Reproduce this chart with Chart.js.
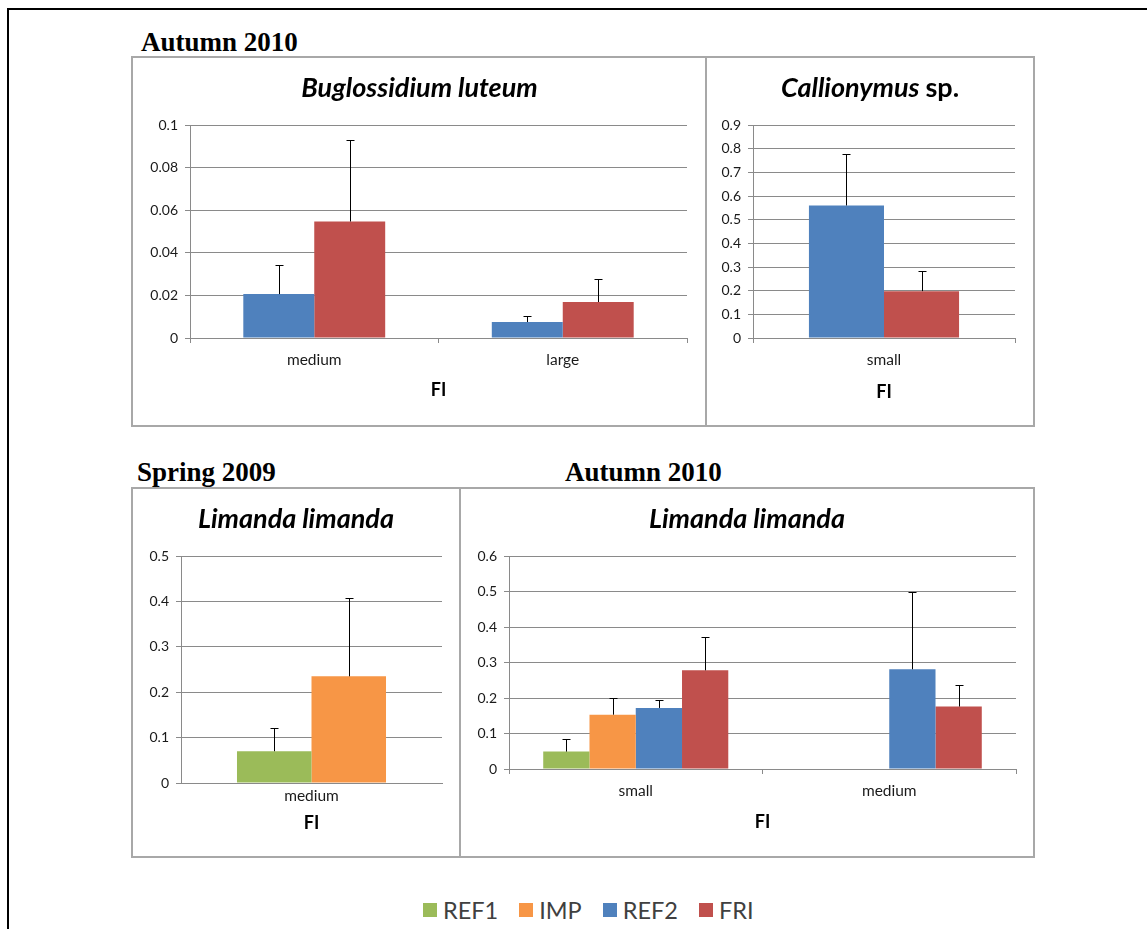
<!DOCTYPE html>
<html>
<head>
<meta charset="utf-8">
<script src="https://cdn.jsdelivr.net/npm/chart.js@4.4.0/dist/chart.umd.min.js"></script>
<style>
  body { margin: 0; width: 1147px; height: 929px; overflow: hidden; position: relative; background: #fff; font-family: Lato, sans-serif; }
  .frame { position: absolute; left: 7px; top: 8px; width: 1300px; height: 1100px; border-top: 2px solid #000; border-left: 2px solid #000; }
  .panel { position: absolute; box-sizing: border-box; border: 2px solid #a8a8a8; background: #fff; }
  .panel canvas { position: absolute; left: 0; top: 0; }
  .ptitle { position: absolute; left: 0; width: 100%; text-align: center; font-weight: bold; font-style: italic; font-size: 27px; line-height: 32px; color: #000; white-space: nowrap; }
  .ptitle .up { font-style: normal; }
  .season { position: absolute; font-family: "Liberation Serif", serif; font-weight: bold; font-size: 27px; line-height: 27px; color: #000; white-space: nowrap; }
  .legend { position: absolute; left: 423px; top: 897px; height: 26px; display: flex; align-items: center; font-size: 23.5px; line-height: 26px; color: #404040; }
  .legend .sq { width: 14px; height: 14px; margin-right: 6px; }
  .legend .txt { margin-right: 21px; }
</style>
</head>
<body>
<div class="frame"></div>

<div class="season" style="left:141px; top:29px;">Autumn 2010</div>
<div class="season" style="left:137px; top:459px;">Spring 2009</div>
<div class="season" style="left:565px; top:459px;">Autumn 2010</div>

<div class="panel" style="left:131px; top:56px; width:577px; height:371px;">
  <canvas id="bugChart" width="573" height="367"></canvas>
  <div class="ptitle" style="top:13px;">Buglossidium luteum</div>
</div>
<div class="panel" style="left:705px; top:56px; width:330px; height:371px;">
  <canvas id="calChart" width="326" height="367"></canvas>
  <div class="ptitle" style="top:13px;">Callionymus <span class="up">sp.</span></div>
</div>
<div class="panel" style="left:131px; top:487px; width:330px; height:371px;">
  <canvas id="limSpringChart" width="326" height="367"></canvas>
  <div class="ptitle" style="top:13px;">Limanda limanda</div>
</div>
<div class="panel" style="left:459px; top:487px; width:576px; height:371px;">
  <canvas id="limAutumnChart" width="572" height="367"></canvas>
  <div class="ptitle" style="top:13px;">Limanda limanda</div>
</div>

<div class="legend" id="legend"></div>

<script>
/************************************************************
 *                        CHART DATA
 ************************************************************/

const seriesNames = ["REF1", "IMP", "REF2", "FRI"];
const seriesColors = ["#9bbb59", "#f79646", "#4f81bd", "#c0504d"];

// Autumn 2010 - Buglossidium luteum
const bugCategories = ["medium", "large"];
const bugRef2 = [0.0206, 0.0075];
const bugRef2Err = [0.0342, 0.0103];
const bugFri = [0.0547, 0.0169];
const bugFriErr = [0.093, 0.0279];
const bugYTicks = [0, 0.02, 0.04, 0.06, 0.08, 0.1];

// Autumn 2010 - Callionymus sp.
const calCategories = ["small"];
const calRef2 = [0.56];
const calRef2Err = [0.777];
const calFri = [0.198];
const calFriErr = [0.282];
const calYTicks = [0, 0.1, 0.2, 0.3, 0.4, 0.5, 0.6, 0.7, 0.8, 0.9];

// Spring 2009 - Limanda limanda
const limSpringCategories = ["medium"];
const limSpringRef1 = [0.07];
const limSpringRef1Err = [0.122];
const limSpringImp = [0.235];
const limSpringImpErr = [0.408];
const limSpringYTicks = [0, 0.1, 0.2, 0.3, 0.4, 0.5];

// Autumn 2010 - Limanda limanda
const limAutumnCategories = ["small", "medium"];
const limAutumnRef1 = [0.049, null];
const limAutumnRef1Err = [0.084, null];
const limAutumnImp = [0.153, null];
const limAutumnImpErr = [0.2, null];
const limAutumnRef2 = [0.172, 0.281];
const limAutumnRef2Err = [0.194, 0.5];
const limAutumnFri = [0.278, 0.176];
const limAutumnFriErr = [0.371, 0.237];
const limAutumnYTicks = [0, 0.1, 0.2, 0.3, 0.4, 0.5, 0.6];

/************************************************************
 *                        SETTINGS
 ************************************************************/

const FONT = "Lato, 'Open Sans', sans-serif";
const GRID_COLOR = "#8a8a8a";

function colorOf(name) {
  return seriesColors[seriesNames.indexOf(name)];
}

function dataset(name, values, errors) {
  return {
    label: name,
    data: values,
    errorTop: errors,
    backgroundColor: colorOf(name),
    borderWidth: 0,
    barPercentage: 1,
  };
}

// upper error bars with a small cap, drawn from the bar top
const errorBarPlugin = {
  id: "errorBars",
  afterDatasetsDraw(chart) {
    const ctx = chart.ctx;
    const yScale = chart.scales.y;
    ctx.save();
    ctx.strokeStyle = "#000";
    ctx.lineWidth = 1;
    chart.data.datasets.forEach((ds, i) => {
      const meta = chart.getDatasetMeta(i);
      meta.data.forEach((bar, j) => {
        const err = ds.errorTop ? ds.errorTop[j] : null;
        if (err == null || ds.data[j] == null) return;
        const x = Math.round(bar.x) + 0.5;
        const yTop = Math.round(yScale.getPixelForValue(err)) + 0.5;
        ctx.beginPath();
        ctx.moveTo(x, bar.y);
        ctx.lineTo(x, yTop);
        ctx.moveTo(x - 4, yTop);
        ctx.lineTo(x + 4, yTop);
        ctx.stroke();
      });
    });
    ctx.restore();
  },
};

/************************************************************
 *                     CHART CONFIG
 ************************************************************/

function getConfig(s) {
  const ticks = s.yTicks;
  return {
    type: "bar",
    data: { labels: s.categories, datasets: s.datasets },
    plugins: [errorBarPlugin],
    options: {
      responsive: false,
      animation: false,
      layout: { padding: { top: s.padTop, right: s.padRight, left: 0, bottom: 0 } },
      datasets: { bar: { categoryPercentage: s.catPct } },
      plugins: { legend: { display: false }, title: { display: false }, tooltip: { enabled: false } },
      scales: {
        x: {
          grid: {
            display: true,
            drawOnChartArea: false,
            drawTicks: s.xTickLen > 0,
            tickLength: s.xTickLen,
            color: GRID_COLOR,
          },
          border: { color: GRID_COLOR },
          ticks: { color: "#1a1a1a", padding: s.xTickPad, font: { family: FONT, size: 15.5 } },
          title: {
            display: true,
            text: "FI",
            color: "#000",
            font: { family: FONT, size: 18, weight: "bold", lineHeight: 1.2 },
            padding: { top: 0, bottom: s.fiPad },
          },
          afterFit: (scale) => { scale.height = s.xHeight; },
        },
        y: {
          min: ticks[0],
          max: ticks[ticks.length - 1],
          grid: { color: GRID_COLOR, tickLength: 5 },
          border: { color: GRID_COLOR },
          ticks: {
            stepSize: ticks[1] - ticks[0],
            padding: 7,
            color: "#1a1a1a",
            font: { family: FONT, size: 14 },
            callback: (v) => String(Math.round(v * 1000) / 1000),
          },
          afterFit: (scale) => { scale.width = s.yWidth; },
        },
      },
    },
  };
}

/************************************************************
 *                     RENDER THE CHARTS
 ************************************************************/

new Chart(document.getElementById("bugChart"), getConfig({
  categories: bugCategories,
  datasets: [dataset("REF2", bugRef2, bugRef2Err), dataset("FRI", bugFri, bugFriErr)],
  yTicks: bugYTicks,
  catPct: 0.571,
  padTop: 67, padRight: 19, yWidth: 57, xHeight: 87,
  xTickLen: 5, xTickPad: 8, fiPad: 24,
}));

new Chart(document.getElementById("calChart"), getConfig({
  categories: calCategories,
  datasets: [dataset("REF2", calRef2, calRef2Err), dataset("FRI", calFri, calFriErr)],
  yTicks: calYTicks,
  catPct: 0.573,
  padTop: 67, padRight: 18, yWidth: 46, xHeight: 87,
  xTickLen: 5, xTickPad: 8, fiPad: 22,
}));

new Chart(document.getElementById("limSpringChart"), getConfig({
  categories: limSpringCategories,
  datasets: [dataset("REF1", limSpringRef1, limSpringRef1Err), dataset("IMP", limSpringImp, limSpringImpErr)],
  yTicks: limSpringYTicks,
  catPct: 0.571,
  padTop: 67, padRight: 17, yWidth: 48, xHeight: 73,
  xTickLen: 0, xTickPad: 4, fiPad: 22,
}));

new Chart(document.getElementById("limAutumnChart"), getConfig({
  categories: limAutumnCategories,
  datasets: [
    dataset("REF1", limAutumnRef1, limAutumnRef1Err),
    dataset("IMP", limAutumnImp, limAutumnImpErr),
    dataset("REF2", limAutumnRef2, limAutumnRef2Err),
    dataset("FRI", limAutumnFri, limAutumnFriErr),
  ],
  yTicks: limAutumnYTicks,
  catPct: 0.73,
  padTop: 67, padRight: 17, yWidth: 48, xHeight: 87,
  xTickLen: 5, xTickPad: 8, fiPad: 23,
}));

// shared legend below the panels
const legendEl = document.getElementById("legend");
seriesNames.forEach((name, i) => {
  const sq = document.createElement("span");
  sq.className = "sq";
  sq.style.background = seriesColors[i];
  const txt = document.createElement("span");
  txt.className = "txt";
  txt.textContent = name;
  legendEl.appendChild(sq);
  legendEl.appendChild(txt);
});
</script>
</body>
</html>
